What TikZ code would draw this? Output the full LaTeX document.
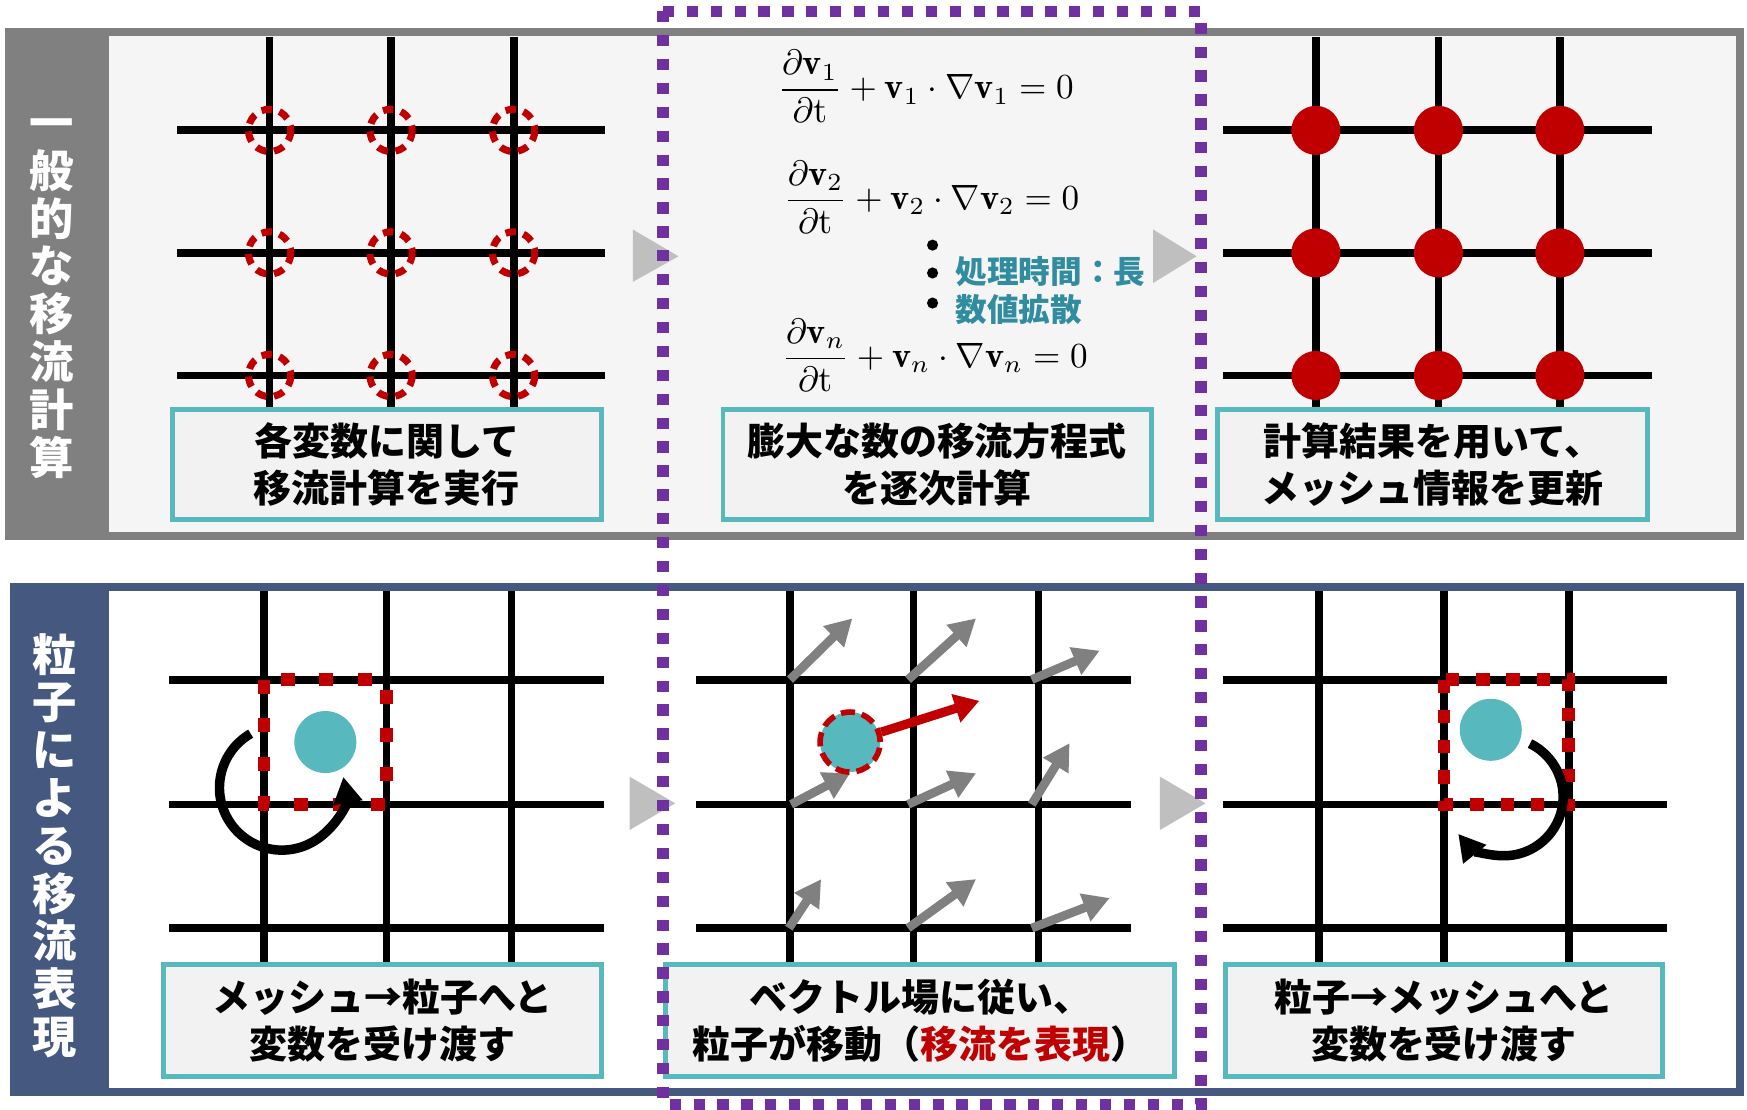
\documentclass[tikz,border=0pt]{standalone}
\usepackage{fontspec}
\usepackage{amsmath}
\usepackage{amssymb}
\usetikzlibrary{arrows.meta}
\newfontfamily\jp{Noto Sans CJK JP}
\definecolor{panelgray}{RGB}{128,128,128}
\definecolor{panelbg}{RGB}{245,245,245}
\definecolor{navyc}{RGB}{68,88,128}
\definecolor{boxteal}{RGB}{87,185,190}
\definecolor{boxfill}{RGB}{242,242,242}
\definecolor{notec}{RGB}{49,140,160}
\definecolor{redc}{RGB}{192,0,0}
\definecolor{purplec}{RGB}{112,48,160}
\definecolor{trigray}{RGB}{191,191,191}

\begin{document}
\begin{tikzpicture}[x=0.01114cm, y=-0.01114cm,
    gridline/.style={line width=2.2pt},
    capbox/.style={draw=boxteal, line width=1.4pt, fill=boxfill, inner sep=0pt,
      align=center, font=\jp\bfseries\fontsize{10.8}{13.2}\selectfont},
    sidelbl/.style={text=white, align=center, inner sep=0pt,
      font=\jp\bfseries\fontsize{12.6}{13.6}\selectfont},
    eqn/.style={inner sep=0pt, font=\fontsize{10.3}{13}\selectfont},
    note/.style={anchor=west, inner sep=0pt, text=notec,
      font=\jp\bfseries\fontsize{9}{11}\selectfont},
    particle/.style={circle, fill=boxteal, inner sep=0pt, minimum size=0.62cm},
    vec/.style={draw=panelgray, line width=2.5pt, -{Triangle[length=7.5pt, width=8pt]}},
    swirl/.style={line width=2.7pt, -{Triangle[length=7.5pt, width=8pt]}},
    divider/.style={fill=trigray},
  ]
  \useasboundingbox (0,0) rectangle (1568,996);

  % upper row: usual advection
  \draw[panelgray, line width=2.2pt, fill=panelbg] (8,29) rectangle (1562,481);
  \fill[panelgray] (8,29) rectangle (98,481);
  \node[sidelbl] (lbltop) at (46,268) {一\\般\\的\\な\\移\\流\\計\\算};

  \foreach \x in {242,351,461} \draw[gridline] (\x,33) -- (\x,368);
  \foreach \y in {117,227,337} \draw[gridline] (159,\y) -- (543,\y);
  \foreach \x in {242,351,461}
    \foreach \y in {117,227,337}
      \draw[redc, line width=2pt, dash pattern=on 3pt off 2.2pt] (\x,\y) circle[radius=19];

  \node[eqn] (eqa) at (831,78)
    {$\displaystyle\frac{\partial\mathbf{v}_1}{\partial\mathrm{t}}+\mathbf{v}_1\cdot\nabla\mathbf{v}_1=0$};
  \node[eqn] (eqb) at (836,177)
    {$\displaystyle\frac{\partial\mathbf{v}_2}{\partial\mathrm{t}}+\mathbf{v}_2\cdot\nabla\mathbf{v}_2=0$};
  \node[eqn] (eqc) at (839,319)
    {$\displaystyle\frac{\partial\mathbf{v}_n}{\partial\mathrm{t}}+\mathbf{v}_n\cdot\nabla\mathbf{v}_n=0$};
  \foreach \y in {220,245,272} \fill (837,\y) circle[radius=5];
  \node[note] (notetime) at (857,244) {処理時間：長};
  \node[note] (notediff) at (857,278) {数値拡散};

  \foreach \x in {1181,1291,1400} \draw[gridline] (\x,33) -- (\x,368);
  \foreach \y in {117,227,337} \draw[gridline] (1098,\y) -- (1483,\y);
  \foreach \x in {1181,1291,1400}
    \foreach \y in {117,227,337}
      \fill[redc] (\x,\y) circle[radius=22];

  \node[capbox, minimum width=4.29cm, minimum height=1.1cm] (capmesh) at (347,417)
    {各変数に関して\\移流計算を実行};
  \node[capbox, minimum width=4.28cm, minimum height=1.1cm] (capeq) at (841,417)
    {膨大な数の移流方程式\\を逐次計算};
  \node[capbox, minimum width=4.3cm, minimum height=1.1cm] (capupd) at (1286,417)
    {計算結果を用いて、\\メッシュ情報を更新};

  \fill[divider] (568,206) -- (609,230) -- (568,253) -- cycle;
  \fill[divider] (1035,206) -- (1074,230) -- (1035,254) -- cycle;

  % lower row: particles
  \draw[navyc, line width=2.2pt, fill=white] (12,527) rectangle (1562,980);
  \fill[navyc] (12,527) rectangle (98,980);
  \node[sidelbl] (lblbot) at (49,759) {粒\\子\\に\\よ\\る\\移\\流\\表\\現};

  \foreach \x in {237,347,459} \draw[gridline] (\x,530) -- (\x,866);
  \foreach \y in {610,722,833} \draw[gridline] (152,\y) -- (542,\y);
  \draw[redc, line width=3.6pt, dash pattern=on 4pt off 7pt] (237,610) rectangle (347,722);
  \node[particle] (pleft) at (292,666) {};
  \draw[swirl] (225,658.5) arc[start angle=240, end angle=-10, radius=56];

  \foreach \x in {709,820,932} \draw[gridline] (\x,530) -- (\x,866);
  \foreach \y in {610,722,833} \draw[gridline] (625,\y) -- (1015,\y);
  \foreach \sx/\sy/\ex/\ey in {709/610/765/555, 815/610/876/555, 926/610/987/584,
      710/722/763/694, 815/722/876/694, 926/722/960/667,
      708/833/737/789, 815/833/876/789, 926/833/996/806}
    \draw[vec] (\sx,\sy) -- (\ex,\ey);
  \node[particle, draw=redc, line width=1.6pt, dash pattern=on 4pt off 2pt,
    minimum size=0.6cm] (pmove) at (763,666) {};
  \coordinate (mvtip) at (879,629);
  \draw[redc, line width=2.6pt, -{Triangle[length=7pt, width=8pt]}] (pmove) -- (mvtip);

  \foreach \x in {1184,1296,1408} \draw[gridline] (\x,530) -- (\x,866);
  \foreach \y in {610,722,833} \draw[gridline] (1098,\y) -- (1496,\y);
  \draw[redc, line width=3.6pt, dash pattern=on 3.8pt off 4.8pt] (1296,610) rectangle (1408,722);
  \node[particle] (pright) at (1338,655) {};
  \draw[swirl] (1373.2,667.4) arc[start angle=-64, end angle=141, radius=53];

  \node[capbox, minimum width=4.38cm, minimum height=1.125cm] (capm2p) at (343,916)
    {メッシュ→粒子へと\\変数を受け渡す};
  \node[capbox, minimum width=5.09cm, minimum height=1.125cm] (capmove) at (826,916)
    {ベクトル場に従い、\\粒子が移動（\textcolor{redc}{移流を表現}）};
  \node[capbox, minimum width=4.37cm, minimum height=1.125cm] (capp2m) at (1296,916)
    {粒子→メッシュへと\\変数を受け渡す};

  \fill[divider] (565,697) -- (606,721) -- (565,745) -- cycle;
  \fill[divider] (1041,697) -- (1082,721) -- (1041,745) -- cycle;

  % the step that changes
  \draw[purplec, line width=3.2pt, dash pattern=on 3.2pt off 3.6pt] (595,10) rectangle (1078,991);
\end{tikzpicture}
\end{document}
